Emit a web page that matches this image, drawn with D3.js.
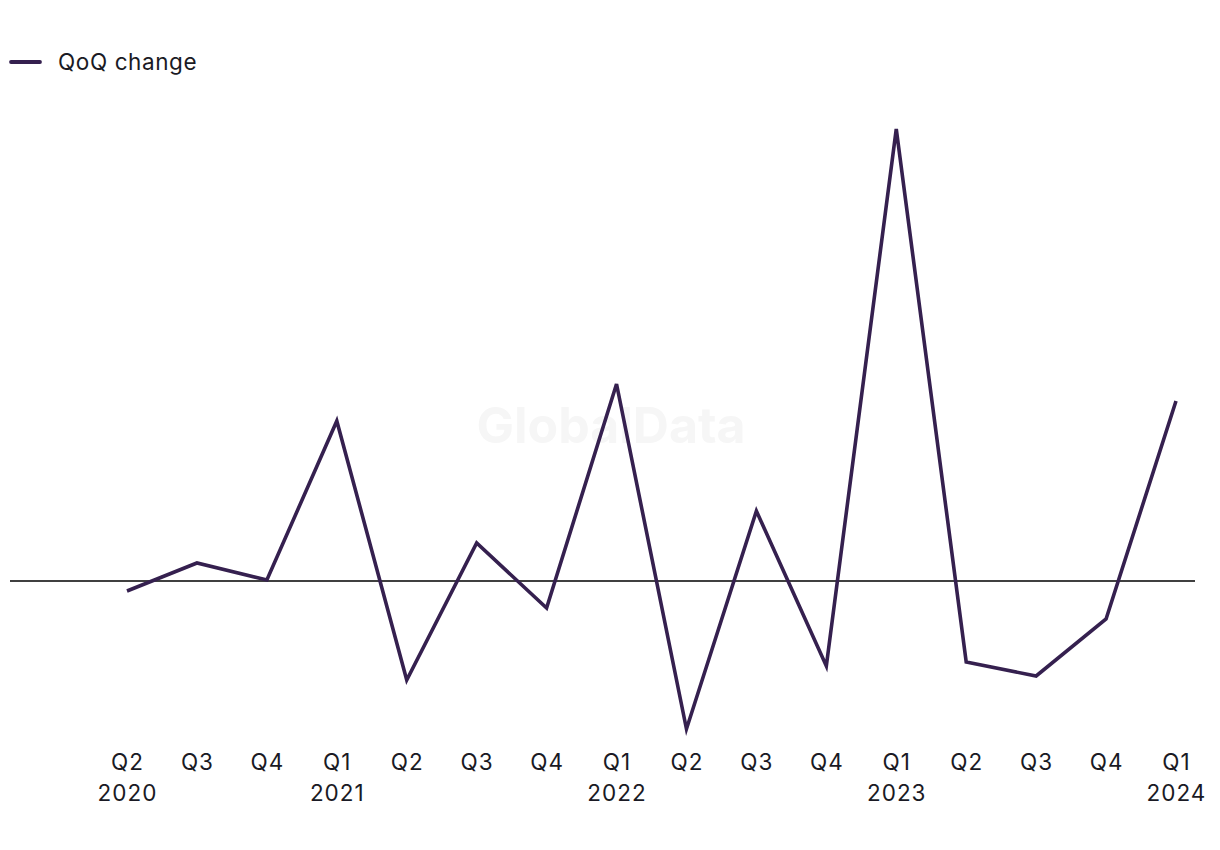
<!DOCTYPE html>
<html lang="en">
<meta charset="UTF-8">
<style>
    body { margin: 0; background: #fff; }
    svg { display: block; font-family: Inter, "Liberation Sans", sans-serif; }
    .tick-label { font-size: 22.5px; fill: #1a1a24; letter-spacing: 1px; }
</style>
<body>
<svg id="chart" width="1220" height="850"></svg>
<script src="https://d3js.org/d3.v7.min.js"></script>
<script>
// quarter labels and QoQ change values
const quarters = ["Q2", "Q3", "Q4", "Q1", "Q2", "Q3", "Q4", "Q1", "Q2", "Q3", "Q4", "Q1", "Q2", "Q3", "Q4", "Q1"];
const years = ["2020", "", "", "2021", "", "", "", "2022", "", "", "", "2023", "", "", "", "2024"];
const qoqChange = [-1.0, 1.8, 0.1, 16.0, -9.9, 3.8, -2.7, 19.7, -14.8, 7.0, -8.5, 45.2, -8.1, -9.5, -3.8, 18.0];

const svg = d3.select('#chart');
const lineColor = '#35204f';

const idx = qoqChange.map((d, i) => i);

const x = d3.scalePoint()
    .domain(idx)
    .range([127, 1176]);

const y = d3.scaleLinear()
    .domain([-20, 50])
    .range([781, 81]);

// watermark
svg.append('text')
    .attr('x', 611)
    .attr('y', 443)
    .attr('text-anchor', 'middle')
    .attr('font-size', '50px')
    .attr('font-weight', 'bold')
    .attr('fill', '#f6f6f6')
    .text('GlobalData');

// zero line
svg.append('line')
    .attr('x1', 10)
    .attr('x2', 1195)
    .attr('y1', y(0))
    .attr('y2', y(0))
    .attr('stroke', '#000')
    .attr('stroke-width', 1.5);

// series
const line = d3.line()
    .x((d, i) => x(i))
    .y(d => y(d));

svg.append('path')
    .datum(qoqChange)
    .attr('d', line)
    .attr('fill', 'none')
    .attr('stroke', lineColor)
    .attr('stroke-width', 3.6)
    .attr('stroke-linejoin', 'miter');

// x labels
const labels = svg.append('g');
labels.selectAll('text.q').data(idx)
    .enter().append('text')
        .attr('class', 'tick-label q')
        .attr('x', d => x(d) + 0.5)
        .attr('y', 770)
        .attr('text-anchor', 'middle')
        .text(d => quarters[d]);
labels.selectAll('text.yr').data(idx.filter(i => years[i]))
    .enter().append('text')
        .attr('class', 'tick-label yr')
        .attr('x', d => x(d) + 0.5)
        .attr('y', 801)
        .attr('text-anchor', 'middle')
        .text(d => years[d]);

// legend
svg.append('line')
    .attr('x1', 11).attr('x2', 40)
    .attr('y1', 62).attr('y2', 62)
    .attr('stroke', lineColor)
    .attr('stroke-width', 3.8)
    .attr('stroke-linecap', 'round');
svg.append('text')
    .attr('x', 58)
    .attr('y', 70)
    .attr('font-size', '22.5px')
    .attr('letter-spacing', '0.6px')
    .attr('fill', '#1a1a24')
    .text('QoQ change');
</script>
</body>
</html>
